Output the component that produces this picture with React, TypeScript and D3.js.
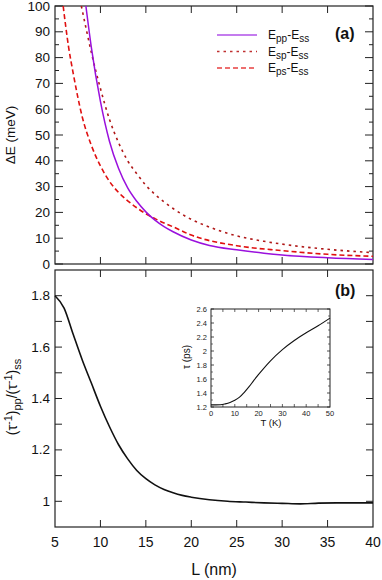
import * as d3 from "d3";
import React from "react";

// panel (a): energy splittings vs L
const lPP = [8.4, 9, 10, 11, 12, 13, 14, 15, 16, 17, 18, 20, 22, 25, 28, 30, 35, 40];
const ePP = [100, 84, 63, 47.5, 37, 29.5, 24.3, 20.2, 17, 14.5, 12.5, 9.3, 7.2, 5.5, 4.2, 3.5, 2.4, 1.7];
const lSP = [7.9, 8.5, 9, 10, 11, 12, 13, 14, 15, 16, 18, 20, 22, 25, 28, 30, 35, 40];
const eSP = [100, 90, 82, 68, 56, 47, 40, 35, 30.5, 27, 21.5, 17.3, 14.3, 10.9, 8.8, 7.7, 5.7, 4.4];
const lPS = [5.9, 6.5, 7, 8, 9, 10, 11, 12, 13, 14, 15, 16, 17, 18, 20, 25, 30, 35, 40];
const ePS = [100, 84, 74, 57, 46, 38, 32, 27.7, 24.5, 21.8, 19.5, 17.6, 15.9, 14.4, 11.2, 7.1, 5.2, 3.75, 3.0];

// panel (b): rate ratio vs L
const lRatio = [5, 6, 7, 8, 9, 10, 11, 12, 13, 14, 15, 16, 17, 18, 19, 20, 22, 24, 26, 28, 30, 32, 34, 36, 38, 40];
const ratio = [1.8, 1.752, 1.65, 1.55, 1.46, 1.37, 1.29, 1.22, 1.165, 1.12, 1.088, 1.064, 1.046, 1.033, 1.023, 1.016, 1.006, 1.0, 0.997, 0.994, 0.992, 0.99, 0.993, 0.994, 0.994, 0.994];

// inset: tau vs T
const tempK = [0, 2, 4, 6, 8, 10, 12, 14, 16, 18, 20, 25, 30, 35, 40, 45, 50];
const tauPs = [1.23, 1.23, 1.232, 1.245, 1.265, 1.295, 1.34, 1.41, 1.49, 1.58, 1.665, 1.86, 2.02, 2.15, 2.26, 2.36, 2.47];

const xTicks = [5, 10, 15, 20, 25, 30, 35, 40];
const W = 382;
const H = 580;
const left = 55;
const right = 373;
const font = "Liberation Sans, Arial, sans-serif";
const axisCol = "#222";

const x = d3.scaleLinear().domain([5, 40]).range([left, right]);
const yA = d3.scaleLinear().domain([0, 100]).range([264, 6]);
const yB = d3.scaleLinear().domain([0.9, 1.9]).range([527, 270]);
const xI = d3.scaleLinear().domain([0, 50]).range([211, 330]);
const yI = d3.scaleLinear().domain([1.2, 2.6]).range([407, 309]);

const mk = (xs: number[], ys: number[], sx: any, sy: any) =>
  d3
    .line<number>()
    .x((d, i) => sx(xs[i]))
    .y((d) => sy(d))
    .curve(d3.curveMonotoneX)(ys) || "";

const Frame = ({ y0, y1 }: { y0: number; y1: number }) => (
  <rect x={left} y={y1} width={right - left} height={y0 - y1} fill="none" stroke={axisCol} strokeWidth={1.2} />
);

const App = () => {
  const aMajor = d3.range(0, 101, 10);
  const aMinor = d3.range(5, 100, 10);
  const bTicks = d3.range(1.0, 1.85, 0.1);
  const bLabels = [1.0, 1.2, 1.4, 1.6, 1.8];
  const iYMaj = [1.2, 1.4, 1.6, 1.8, 2.0, 2.2, 2.4, 2.6];
  const iYMin = d3.range(1.3, 2.6, 0.2);
  const iX = [0, 10, 20, 30, 40, 50];
  const iXMin = d3.range(5, 50, 5);
  return (
    <svg width={W} height={H} style={{ position: "absolute", left: 0, top: 0, background: "#fff" }} fontFamily={font}>
      {/* panel (a) */}
      <Frame y0={264} y1={6} />
      {aMajor.map((v) => (
        <g key={"am" + v}>
          <line x1={left} x2={left + 8} y1={yA(v)} y2={yA(v)} stroke={axisCol} />
          <line x1={right} x2={right - 8} y1={yA(v)} y2={yA(v)} stroke={axisCol} />
          <text x={50} y={yA(v) + 4.5} fontSize={13.5} textAnchor="end" fill="#111">{v}</text>
        </g>
      ))}
      {aMinor.map((v) => (
        <g key={"an" + v}>
          <line x1={left} x2={left + 4} y1={yA(v)} y2={yA(v)} stroke={axisCol} />
          <line x1={right} x2={right - 4} y1={yA(v)} y2={yA(v)} stroke={axisCol} />
        </g>
      ))}
      {xTicks.slice(1, -1).map((v) => (
        <g key={"ax" + v}>
          <line x1={x(v)} x2={x(v)} y1={6} y2={13} stroke={axisCol} />
          <line x1={x(v)} x2={x(v)} y1={264} y2={257} stroke={axisCol} />
        </g>
      ))}
      <defs>
        <clipPath id="clipA">
          <rect x={left} y={6} width={right - left} height={258} />
        </clipPath>
      </defs>
      <g clipPath="url(#clipA)" fill="none">
        <path d={mk(lSP, eSP, x, yA)} stroke="#b01818" strokeWidth={1.6} strokeDasharray="2.5,4" />
        <path d={mk(lPS, ePS, x, yA)} stroke="#e01010" strokeWidth={1.6} strokeDasharray="5,3" />
        <path d={mk(lPP, ePP, x, yA)} stroke="#9a10dd" strokeWidth={1.5} />
      </g>
      <text transform="translate(15,135) rotate(-90)" fontSize={13.5} textAnchor="middle" fill="#111">ΔE (meV)</text>
      <text x={335} y={39} fontSize={16} fontWeight="bold" fill="#111">(a)</text>
      {/* legend */}
      {[
        { s: "pp", c: "#b050e8", d: undefined, w: 1.5 },
        { s: "sp", c: "#c03030", d: "2.5,4", w: 1.4 },
        { s: "ps", c: "#e84040", d: "5,3", w: 1.6 },
      ].map((r, i) => (
        <g key={r.s}>
          <line x1={217} x2={257} y1={35 + i * 16.5} y2={35 + i * 16.5} stroke={r.c} strokeWidth={r.w} strokeDasharray={r.d} />
          <text x={268} y={39 + i * 16.5} fontSize={12} fill="#111">
            E<tspan fontSize={10} dy={3}>{r.s}</tspan>
            <tspan dy={-3}>-E</tspan>
            <tspan fontSize={10} dy={3}>ss</tspan>
          </text>
        </g>
      ))}

      {/* panel (b) */}
      <Frame y0={527} y1={270} />
      {bTicks.map((v) => (
        <g key={"bt" + v}>
          <line x1={left} x2={left + 7} y1={yB(v)} y2={yB(v)} stroke={axisCol} />
          <line x1={right} x2={right - 7} y1={yB(v)} y2={yB(v)} stroke={axisCol} />
        </g>
      ))}
      {bLabels.map((v) => (
        <text key={"bl" + v} x={50} y={yB(v) + 4.5} fontSize={13.5} textAnchor="end" fill="#111">
          {v === 1 ? "1" : v.toFixed(1)}
        </text>
      ))}
      {xTicks.slice(1, -1).map((v) => (
        <g key={"bx" + v}>
          <line x1={x(v)} x2={x(v)} y1={270} y2={277} stroke={axisCol} />
          <line x1={x(v)} x2={x(v)} y1={527} y2={520} stroke={axisCol} />
        </g>
      ))}
      {xTicks.map((v) => (
        <text key={"xl" + v} x={x(v)} y={547} fontSize={14} textAnchor="middle" fill="#111">{v}</text>
      ))}
      <path d={mk(lRatio, ratio, x, yB)} fill="none" stroke="#111" strokeWidth={1.6} />
      <text x={335} y={296} fontSize={16} fontWeight="bold" fill="#111">(b)</text>
      <text transform="translate(17,397) rotate(-90)" fontSize={14} textAnchor="middle" fill="#111">
        (τ<tspan fontSize={11} dy={-5}>-1</tspan>
        <tspan dy={5}>)</tspan>
        <tspan fontSize={11} dy={4}>pp</tspan>
        <tspan dy={-4}>/(τ</tspan>
        <tspan fontSize={11} dy={-5}>-1</tspan>
        <tspan dy={5}>)</tspan>
        <tspan fontSize={11} dy={4}>ss</tspan>
      </text>
      <text x={214} y={575} fontSize={16} textAnchor="middle" fill="#111">L (nm)</text>

      {/* inset */}
      <rect x={211} y={309} width={119} height={98} fill="none" stroke={axisCol} strokeWidth={1} />
      {iYMaj.map((v) => (
        <g key={"iy" + v}>
          <line x1={211} x2={214} y1={yI(v)} y2={yI(v)} stroke={axisCol} strokeWidth={0.8} />
          <line x1={330} x2={327} y1={yI(v)} y2={yI(v)} stroke={axisCol} strokeWidth={0.8} />
          <text x={207} y={yI(v) + 2.5} fontSize={7.5} textAnchor="end" fill="#222">
            {Number.isInteger(+v.toFixed(1)) ? v.toFixed(0) : v.toFixed(1)}
          </text>
        </g>
      ))}
      {iYMin.map((v) => (
        <g key={"iym" + v}>
          <line x1={211} x2={213} y1={yI(v)} y2={yI(v)} stroke={axisCol} strokeWidth={0.6} />
          <line x1={330} x2={328} y1={yI(v)} y2={yI(v)} stroke={axisCol} strokeWidth={0.6} />
        </g>
      ))}
      {iXMin.map((v) => (
        <g key={"ix" + v}>
          <line x1={xI(v)} x2={xI(v)} y1={309} y2={312} stroke={axisCol} strokeWidth={0.7} />
          <line x1={xI(v)} x2={xI(v)} y1={407} y2={404} stroke={axisCol} strokeWidth={0.7} />
        </g>
      ))}
      {iX.map((v) => (
        <text key={"ixl" + v} x={xI(v)} y={416} fontSize={7.5} textAnchor="middle" fill="#222">{v}</text>
      ))}
      <path d={mk(tempK, tauPs, xI, yI)} fill="none" stroke="#111" strokeWidth={1.1} />
      <text x={271} y={426} fontSize={9.5} textAnchor="middle" fill="#111">T (K)</text>
      <text transform="translate(190,357) rotate(-90)" fontSize={10} textAnchor="middle" fill="#111">τ (ps)</text>
    </svg>
  );
};

export default App;
